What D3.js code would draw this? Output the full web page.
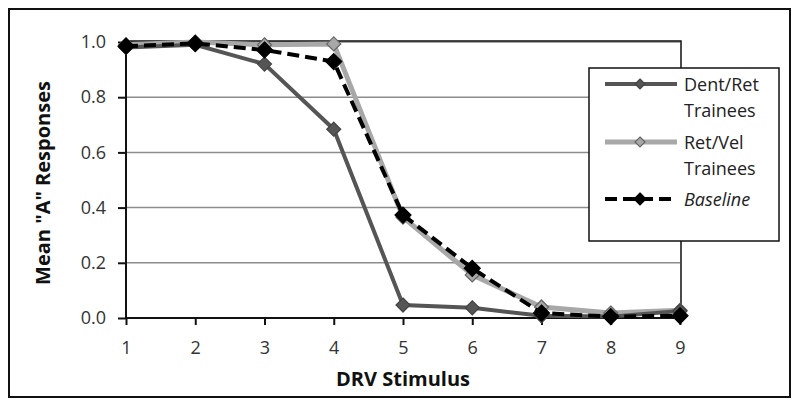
<!DOCTYPE html>
<html><head><meta charset="utf-8">
<script src="https://cdn.jsdelivr.net/npm/d3@7"></script>
<style>body{margin:0;background:#fff}svg{display:block}text{font-family:"Open Sans","Noto Sans",sans-serif}</style>
</head><body><svg id="c" width="800" height="407"></svg>
<script>
const stimuli = [1,2,3,4,5,6,7,8,9];
const yTicks = [0,0.2,0.4,0.6,0.8,1.0];
const seriesNames = ["Dent/Ret Trainees","Ret/Vel Trainees","Baseline"];
const dentRet = [0.98,0.99,0.92,0.684,0.047,0.037,0.008,0.005,0.025];
const retVel  = [0.99,1.0,0.99,0.993,0.365,0.156,0.04,0.018,0.028];
const baseline= [0.985,0.995,0.971,0.929,0.373,0.18,0.018,0.005,0.008];

const svg = d3.select("#c");
const L=126, R=680, T=42, B=318;
const x = d3.scaleLinear().domain([1,9]).range([L,R]);
const y = d3.scaleLinear().domain([0,1]).range([B,T]);

svg.append("rect").attr("x",9).attr("y",9).attr("width",781).attr("height",388)
  .attr("fill","none").attr("stroke","#111").attr("stroke-width",2);

svg.append("g").selectAll("line").data(yTicks.filter(d=>d>0)).join("line")
  .attr("x1",L).attr("x2",R).attr("y1",d=>y(d)).attr("y2",d=>y(d))
  .attr("stroke","#8c8c8c").attr("stroke-width",1.5);
svg.append("path").attr("d",`M${L},${T-1}H${R+1}V${B}`).attr("fill","none").attr("stroke","#111").attr("stroke-width",1.5);

const yAxis = d3.axisLeft(y).tickValues(yTicks).tickFormat(d3.format(".1f")).tickSize(8).tickPadding(12);
const gy = svg.append("g").attr("transform",`translate(${L},0)`).call(yAxis);
const xAxis = d3.axisBottom(x).tickValues(stimuli).tickFormat(d3.format("d")).tickSize(7).tickPadding(16);
const gx = svg.append("g").attr("transform",`translate(0,${B})`).call(xAxis);
[gy,gx].forEach(g=>{
  g.select(".domain").attr("stroke","#111").attr("stroke-width",2);
  g.selectAll(".tick line").attr("stroke","#111").attr("stroke-width",2);
  g.selectAll(".tick text").attr("fill","#333").style("font-size","18px").style("font-family","'Open Sans',sans-serif");
});
gy.select(".domain").attr("d",`M0,${T}V${B}`);
gx.select(".domain").attr("d",`M${L},0H${R}`);

svg.append("text").attr("x",403).attr("y",386).attr("text-anchor","middle")
  .style("font-size","20px").style("font-weight","bold").attr("fill","#111").text("DRV Stimulus");
svg.append("text").attr("transform","translate(50,183) rotate(-90)").attr("text-anchor","middle")
  .style("font-size","20px").style("font-weight","bold").attr("fill","#111").text('Mean "A" Responses');

const styles = [
  {vals:dentRet, stroke:"#555", width:4, dash:null, mfill:"#555", mstroke:"#444", hw:7, hh:7},
  {vals:retVel, stroke:"#a8a8a8", width:5, dash:null, mfill:"#a8a8a8", mstroke:"#666", hw:7, hh:7},
  {vals:baseline, stroke:"#000", width:4, dash:"12,6", mfill:"#000", mstroke:"#000", hw:8, hh:8},
];
const dia = (hw,hh)=>`M0,${-hh}L${hw},0L0,${hh}L${-hw},0Z`;
const line = d3.line().x((d,i)=>x(stimuli[i])).y(d=>y(d));
[1,0,2].forEach(k=>{
  const s = styles[k];
  svg.append("path").datum(s.vals).attr("d",line).attr("fill","none")
    .attr("stroke",s.stroke).attr("stroke-width",s.width).attr("stroke-dasharray",s.dash);
  svg.append("g").selectAll("path").data(s.vals).join("path")
    .attr("transform",(d,i)=>`translate(${x(stimuli[i])},${y(d)})`)
    .attr("d",dia(s.hw,s.hh))
    .attr("fill",s.mfill).attr("stroke",s.mstroke).attr("stroke-width",1.2);
});

const lg = svg.append("g");
lg.append("rect").attr("x",589).attr("y",68).attr("width",190).attr("height",173)
  .attr("fill","#fff").attr("stroke","#111").attr("stroke-width",1.5);
const legY = [84,142,199];
const legLines = [["Dent/Ret","Trainees"],["Ret/Vel","Trainees"],["Baseline"]];
styles.forEach((s,i)=>{
  const yy = legY[i];
  lg.append("line").attr("x1",605).attr("x2",677).attr("y1",yy).attr("y2",yy)
    .attr("stroke",s.stroke).attr("stroke-width",s.width).attr("stroke-dasharray",s.dash);
  lg.append("path").attr("transform",`translate(640,${yy})`)
    .attr("d",dia(s.hw-2,s.hh-2))
    .attr("fill",s.mfill).attr("stroke",s.mstroke).attr("stroke-width",1.2);
  legLines[i].forEach((t,j)=>{
    lg.append("text").attr("x",684).attr("y",yy+7+j*26).style("font-size","18px")
      .style("font-style", i===2?"italic":"normal").attr("fill","#222").text(t);
  });
});
</script></body></html>
